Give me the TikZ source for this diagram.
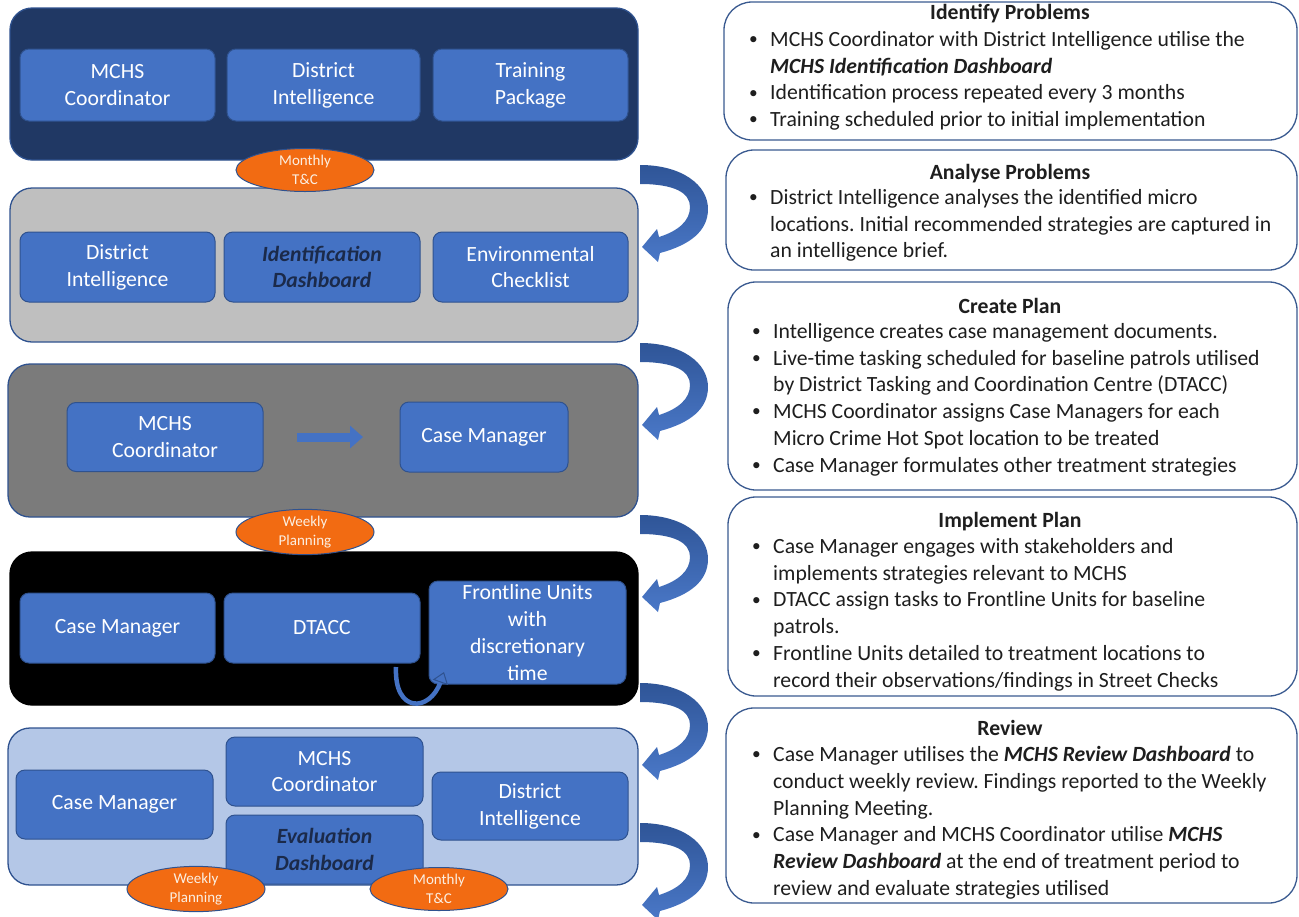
\documentclass[tikz,border=0pt]{standalone}
\usepackage{graphicx}
\usepackage{fontspec}
\setmainfont{Carlito}
\usetikzlibrary{arrows.meta,shapes.geometric}
\frenchspacing

\definecolor{navypanel}{HTML}{203864}
\definecolor{greypanel}{HTML}{BFBFBF}
\definecolor{slatepanel}{HTML}{7B7B7B}
\definecolor{palepanel}{HTML}{B4C7E7}
\definecolor{panelline}{HTML}{2F528F}
\definecolor{cellblue}{HTML}{4472C4}
\definecolor{cellline}{HTML}{2F528F}
\definecolor{darkword}{HTML}{1B2A4A}
\definecolor{tagorange}{HTML}{F26B12}
\definecolor{tagline}{HTML}{2F528F}
\definecolor{tagtext}{HTML}{FBEFE2}
\definecolor{cardline}{HTML}{3A5A90}
\definecolor{cardtext}{HTML}{1E1E1E}
\definecolor{arrowdark}{HTML}{2F5597}
\definecolor{arrowlight}{HTML}{4A78C8}

\newcommand\boxfont{\fontsize{21.7}{26.8}\selectfont}
\newcommand\tagfont{\fontsize{15}{19}\selectfont}
\newcommand\cardbul{\makebox[22pt][l]{\hspace{1pt}\raisebox{0.08em}{\scalebox{0.8}{\textbullet}}}}
\newcommand\cardind{\hspace*{22pt}}
\newcommand\bi[1]{\textbf{\textit{#1}}}

\tikzset{
  panel/.style={draw=panelline, line width=1.3pt, rounded corners=22pt, inner sep=0pt, outer sep=0pt},
  cell/.style={draw=cellline, line width=1pt, fill=cellblue, rounded corners=9pt,
    text=white, align=center, inner sep=0pt, outer sep=0pt, font=\boxfont},
  tag/.style={ellipse, draw=tagline, line width=1pt, fill=tagorange, text=tagtext,
    align=center, inner sep=0pt, minimum width=138pt, minimum height=43pt, font=\tagfont},
  card/.style={draw=cardline, line width=1.3pt, fill=white, rounded corners=28pt, inner sep=0pt},
  cardtitle/.style={font=\boxfont\bfseries, inner sep=0pt, anchor=base, text=cardtext},
  cardbody/.style={font=\boxfont, align=left, inner sep=0pt, anchor=north west, text=cardtext},
  curvarrow/.pic={
    \path[top color=arrowdark, bottom color=arrowlight]
      (0,0) .. controls (42,0) and (68,20) .. (68,44)
            .. controls (68,66) and (50,80) .. (20,88)
      -- (18,97) -- (2,82) -- (17,64) -- (19,72)
            .. controls (38,66) and (50,56) .. (50,42)
            .. controls (50,28) and (35,19) .. (0,19) -- cycle;
  }
}

\begin{document}
\begin{tikzpicture}[x=1pt,y=-1pt]
\useasboundingbox (0,0) rectangle (1299,916);

% ---------- process panels ----------
\node[panel, fill=navypanel,  minimum width=628pt, minimum height=152pt] (p1) at (324,84) {};
\node[panel, fill=greypanel,  minimum width=628pt, minimum height=154pt] (p2) at (324,265) {};
\node[panel, fill=slatepanel, minimum width=630pt, minimum height=153pt] (p3) at (323,440.5) {};
\node[panel, fill=black, draw=black, minimum width=628pt, minimum height=153pt] (p4) at (324,628.5) {};
\node[panel, fill=palepanel,  minimum width=630pt, minimum height=157pt] (p5) at (323,806.5) {};

% panel 1
\node[cell, minimum width=195pt, minimum height=72pt] (c11) at (117.5,85) {MCHS\\Coordinator};
\node[cell, minimum width=193pt, minimum height=72pt] (c12) at (323.5,85) {District\\Intelligence};
\node[cell, minimum width=195pt, minimum height=72pt] (c13) at (530.5,85) {Training\\Package};

% panel 2
\node[cell, minimum width=195pt, minimum height=70pt] (c21) at (117.5,267) {District\\Intelligence};
\node[cell, minimum width=196pt, minimum height=70pt, text=darkword] (c22) at (322,267) {\bi{Identification}\\\bi{Dashboard}};
\node[cell, minimum width=195pt, minimum height=70pt] (c23) at (530.5,267) {Environmental\\Checklist};

% panel 3
\node[cell, minimum width=196pt, minimum height=69pt] (c31) at (165,437) {MCHS\\Coordinator};
\node[cell, minimum width=168pt, minimum height=70pt] (c32) at (484,437) {Case Manager};
\draw[line width=9pt, cellblue, -{Triangle[length=13pt,width=22pt]},
      shorten <=34pt, shorten >=37pt] (c31.east) -- (c32.west);

% panel 4
\node[cell, minimum width=195pt, minimum height=70pt] (c41) at (117.5,628) {Case Manager};
\node[cell, minimum width=196pt, minimum height=70pt] (c42) at (322,628) {DTACC};
\node[cell, minimum width=197pt, minimum height=103pt] (c43) at (527.5,632.5) {Frontline Units\\with\\discretionary\\time};
\coordinate (u0) at ([xshift=-24pt,yshift=-4pt]c42.south east);
\coordinate (u1) at ([xshift=15pt,yshift=12pt]c43.south west);
\draw[line width=4.5pt, cellblue,
      -{Triangle[length=11pt,width=16pt,line width=1pt,fill=cellblue,color=cellline]}]
  (u0) .. controls (394,714) and (430,712) .. (u1);

% panel 5
\node[cell, minimum width=197pt, minimum height=69pt] (c51) at (114.5,804.5) {Case Manager};
\node[cell, minimum width=197pt, minimum height=69pt] (c52) at (324.5,771.5) {MCHS\\Coordinator};
\node[cell, minimum width=197pt, minimum height=69pt, text=darkword] (c53) at (324.5,849.5) {\bi{Evaluation}\\\bi{Dashboard}};
\node[cell, minimum width=196pt, minimum height=68pt] (c54) at (530,806) {District\\Intelligence};

% meeting tags
\node[tag] (t1) at (305,170) {Monthly\\T\&C};
\node[tag] (t2) at (305,532) {Weekly\\Planning};
\node[tag] (t3) at (196,889) {Weekly\\Planning};
\node[tag] (t4) at (439,889) {Monthly\\T\&C};

% stage-to-stage curved arrows
\pic at (640,165) {curvarrow};
\pic at (640,343) {curvarrow};
\pic at (640,515) {curvarrow};
\pic at (640,683) {curvarrow};
\pic at (640,823) {curvarrow};

% ---------- description cards ----------
\node[card, minimum width=573pt, minimum height=138pt] (r1) at (1010.5,71) {};
\node[card, minimum width=571pt, minimum height=120pt] (r2) at (1011.5,210) {};
\node[card, minimum width=569pt, minimum height=208pt] (r3) at (1012.5,386) {};
\node[card, minimum width=569pt, minimum height=199pt] (r4) at (1012.5,596.5) {};
\node[card, minimum width=571pt, minimum height=195pt] (r5) at (1011.5,805.5) {};

\node[cardtitle] (h1) at (1010,19) {Identify Problems};
\node[cardbody] (b1) at (748,31) {%
\cardbul MCHS Coordinator with District Intelligence utilise the\\
\cardind\bi{MCHS Identification Dashboard}\\
\cardbul Identification process repeated every 3 months\\
\cardbul Training scheduled prior to initial implementation};

\node[cardtitle] (h2) at (1010,179) {Analyse Problems};
\node[cardbody] (b2) at (748,189) {%
\cardbul District Intelligence analyses the identified micro\\
\cardind locations. Initial recommended strategies are captured in\\
\cardind an intelligence brief.};

\node[cardtitle] (h3) at (1010,313) {Create Plan};
\node[cardbody] (b3) at (751,323) {%
\cardbul Intelligence creates case management documents.\\
\cardbul Live-time tasking scheduled for baseline patrols utilised\\
\cardind by District Tasking and Coordination Centre (DTACC)\\
\cardbul MCHS Coordinator assigns Case Managers for each\\
\cardind Micro Crime Hot Spot location to be treated\\
\cardbul Case Manager formulates other treatment strategies};

\node[cardtitle] (h4) at (1010,527) {Implement Plan};
\node[cardbody] (b4) at (751,538) {%
\cardbul Case Manager engages with stakeholders and\\
\cardind implements strategies relevant to MCHS\\
\cardbul DTACC assign tasks to Frontline Units for baseline\\
\cardind patrols.\\
\cardbul Frontline Units detailed to treatment locations to\\
\cardind record their observations/findings in Street Checks};

\node[cardtitle] (h5) at (1010,735) {Review};
\node[cardbody] (b5) at (751,746) {%
\cardbul Case Manager utilises the \bi{MCHS Review Dashboard} to\\
\cardind conduct weekly review. Findings reported to the Weekly\\
\cardind Planning Meeting.\\
\cardbul Case Manager and MCHS Coordinator utilise \bi{MCHS}\\
\cardind\bi{Review Dashboard} at the end of treatment period to\\
\cardind review and evaluate strategies utilised};
\end{tikzpicture}
\end{document}
